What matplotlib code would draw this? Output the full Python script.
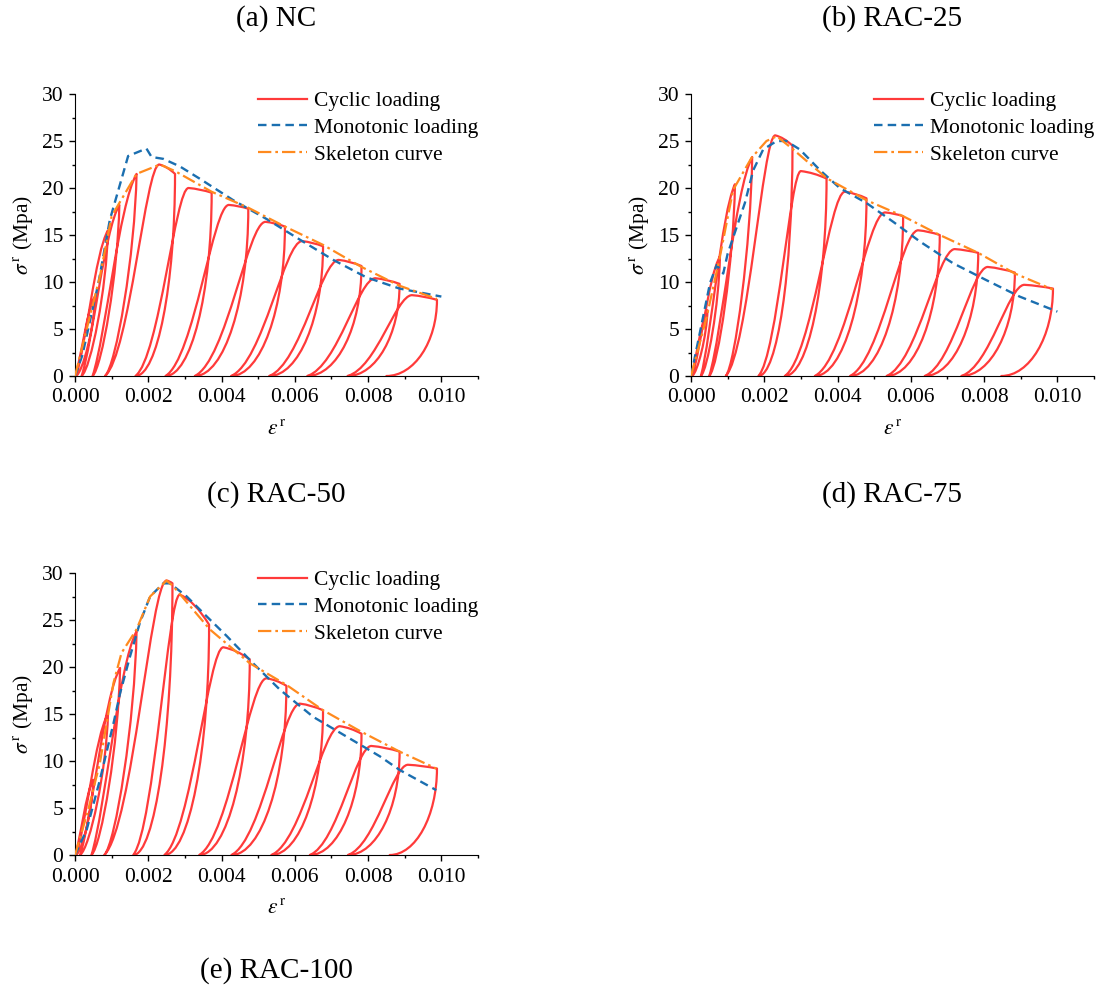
import matplotlib
matplotlib.use("Agg")
import matplotlib.pyplot as plt
from matplotlib.path import Path
from matplotlib.patches import PathPatch
from matplotlib.lines import Line2D
from matplotlib.ticker import MultipleLocator, FormatStrFormatter

plt.rcParams['font.family'] = ['Liberation Serif', 'DejaVu Serif']
plt.rcParams['mathtext.fontset'] = 'stix'

# ---------------- data ----------------
# Cyclic loading: per cycle -> reload top (et, st), unloading point (eu, su), residual strain ep
# (cycle i reloads from ep[i-1], or from 0 for the first cycle)
nc_top_eps = [0.00055, 0.0009, 0.00121, 0.00168, 0.0023, 0.0031, 0.0042, 0.0052, 0.0062, 0.0072, 0.0082, 0.0092]
nc_top_sig = [8.5, 15.5, 18.2, 21.5, 22.5, 20.0, 18.2, 16.4, 14.35, 12.35, 10.4, 8.6]
nc_unl_eps = [0.00055, 0.0009, 0.00121, 0.00168, 0.00273, 0.00373, 0.00473, 0.00573, 0.00677, 0.00782, 0.00886, 0.00988]
nc_unl_sig = [8.5, 15.5, 18.2, 21.5, 21.5, 19.5, 17.8, 15.9, 13.8, 11.7, 9.8, 8.1]
nc_res_eps = [0.00003, 0.00018, 0.00048, 0.00082, 0.00165, 0.00247, 0.00327, 0.00426, 0.0053, 0.00634, 0.00744, 0.0085]

r25_top_eps = [0.00045, 0.00079, 0.0012, 0.00167, 0.0023, 0.0030, 0.0042, 0.0053, 0.0062, 0.0072, 0.0081, 0.0091]
r25_top_sig = [7.0, 12.7, 20.4, 23.3, 25.6, 21.8, 19.6, 17.4, 15.5, 13.5, 11.6, 9.7]
r25_unl_eps = [0.00045, 0.00079, 0.0012, 0.00167, 0.00277, 0.0037, 0.00479, 0.00579, 0.00679, 0.00784, 0.00884, 0.00988]
r25_unl_sig = [7.0, 12.7, 20.4, 23.3, 24.5, 21.0, 18.9, 17.0, 15.0, 13.1, 11.0, 9.3]
r25_res_eps = [0.00003, 0.00027, 0.0005, 0.00095, 0.00184, 0.00256, 0.00338, 0.00434, 0.00534, 0.00638, 0.00738, 0.00847]

r100_top_eps = [0.0005, 0.0009, 0.00123, 0.00168, 0.0025, 0.00286, 0.00405, 0.00523, 0.00614, 0.00723, 0.00809, 0.00909]
r100_top_sig = [8.0, 15.0, 19.9, 23.8, 29.2, 27.7, 22.1, 18.8, 16.1, 13.7, 11.6, 9.6]
r100_unl_eps = [0.0005, 0.0009, 0.00123, 0.00168, 0.00266, 0.00366, 0.00477, 0.00577, 0.00677, 0.00782, 0.00886, 0.00988]
r100_unl_sig = [8.0, 15.0, 19.9, 23.8, 28.9, 24.5, 20.8, 18.0, 15.4, 12.9, 11.0, 9.2]
r100_res_eps = [0.00003, 0.00014, 0.00045, 0.0008, 0.00159, 0.00244, 0.00339, 0.00427, 0.00536, 0.00641, 0.00745, 0.00859]

# Monotonic loading curves
nc_mono_eps = [0.0, 0.0002, 0.00064, 0.00095, 0.00145, 0.00195, 0.00209, 0.00241, 0.00286, 0.0034, 0.00432, 0.00523, 0.00614, 0.00705, 0.00795, 0.00886, 0.0100]
nc_mono_sig = [0.0, 2.2, 9.9, 16.6, 23.4, 24.2, 23.3, 23.1, 22.3, 21.0, 18.7, 16.7, 14.5, 12.35, 10.5, 9.3, 8.45]
r25_mono_eps = [0.0, 0.00011, 0.00052, 0.0007, 0.00088, 0.0010, 0.00147, 0.0017, 0.00197, 0.00234, 0.0026, 0.00297, 0.00352, 0.00406, 0.00479, 0.00552, 0.00625, 0.00715, 0.00806, 0.00897, 0.0100]
r25_mono_sig = [0.0, 2.1, 9.9, 11.8, 10.9, 13.0, 18.4, 21.9, 24.1, 25.0, 25.0, 24.1, 21.9, 20.0, 18.4, 16.4, 14.3, 12.0, 10.2, 8.45, 6.85]
r100_mono_eps = [0.0, 0.00032, 0.00068, 0.00105, 0.00123, 0.0015, 0.00177, 0.00205, 0.00241, 0.00259, 0.00305, 0.00359, 0.00414, 0.00486, 0.00559, 0.0065, 0.00741, 0.00832, 0.00886, 0.00986]
r100_mono_sig = [0.0, 2.7, 8.0, 14.0, 17.2, 21.1, 24.7, 27.5, 28.9, 28.9, 27.5, 25.4, 23.3, 20.4, 17.6, 14.7, 12.6, 10.5, 9.05, 6.9]

# Skeleton curves
nc_skel_eps = [0.0, 0.00068, 0.0010, 0.00121, 0.00168, 0.00232, 0.00273, 0.00373, 0.00473, 0.00573, 0.00677, 0.00782, 0.00886, 0.00988]
nc_skel_sig = [0.0, 10.6, 17.0, 18.4, 21.5, 22.5, 21.8, 19.6, 17.9, 15.9, 13.95, 11.6, 9.6, 8.2]
r25_skel_eps = [0.0, 0.00043, 0.00079, 0.00115, 0.00165, 0.00206, 0.00234, 0.00279, 0.0037, 0.00479, 0.00579, 0.00679, 0.00784, 0.00884, 0.00988]
r25_skel_sig = [0.0, 6.3, 12.7, 19.8, 23.2, 25.0, 25.5, 24.1, 21.05, 18.7, 17.0, 15.0, 13.1, 10.9, 9.2]
r100_skel_eps = [0.0, 0.00036, 0.00068, 0.00105, 0.00127, 0.00168, 0.00205, 0.0025, 0.00268, 0.00368, 0.00477, 0.00577, 0.00677, 0.00782, 0.00886, 0.00986]
r100_skel_sig = [0.0, 4.8, 9.8, 18.3, 21.5, 24.0, 27.5, 29.2, 28.6, 24.0, 20.4, 18.1, 15.4, 13.1, 11.0, 9.2]

panel_titles = ["(a) NC", "(b) RAC-25", "(c) RAC-50", "(d) RAC-75", "(e) RAC-100"]
legend_labels = ["Cyclic loading", "Monotonic loading", "Skeleton curve"]

RED = '#FF3A3A'
BLUE = '#1B6FB0'
ORANGE = '#FF8A1E'
FS = 15.5
DASH = (0, (3.6, 2.2))
DASHDOT = (0, (6.0, 1.8, 1.2, 1.8))


def cyclic_path(top_e, top_s, unl_e, unl_s, res_e):
    verts = [(0.0, 0.0)]
    codes = [Path.MOVETO]
    prev = 0.0
    for et, st, eu, su, ep in zip(top_e, top_s, unl_e, unl_s, res_e):
        dx = et - prev
        early = (et == eu and st == su)
        if early:
            c1 = (prev + 0.3 * dx, 0.2 * st)
            c2 = (prev + 0.6 * dx, 0.85 * st)
        else:
            c1 = (prev + 0.45 * dx, 0.1 * st)
            c2 = (prev + 0.75 * dx, st)
        verts += [c1, c2, (et, st)]
        codes += [Path.CURVE4] * 3
        if not early:
            ctrl = (0.5 * (et + eu), st - 0.2 * (st - su))
            verts += [ctrl, (eu, su)]
            codes += [Path.CURVE3] * 2
        du = eu - ep
        if early:
            c1 = (eu - 0.05 * du, 0.6 * su)
            c2 = (ep + 0.35 * du, 0.05 * su)
        else:
            c1 = (eu, 0.45 * su)
            c2 = (ep + 0.55 * du, 0.0)
        verts += [c1, c2, (ep, 0.0)]
        codes += [Path.CURVE4] * 3
        prev = ep
    return Path(verts, codes)


fig = plt.figure(figsize=(10.96, 9.92), dpi=100)
W, H = 1096.0, 992.0


def make_axes(left_px, top_px):
    return fig.add_axes([left_px / W, 1 - (top_px + 282) / H, 403 / W, 282 / H])


panels = [
    (make_axes(75, 94), (nc_top_eps, nc_top_sig, nc_unl_eps, nc_unl_sig, nc_res_eps),
     (nc_mono_eps, nc_mono_sig), (nc_skel_eps, nc_skel_sig)),
    (make_axes(691, 94), (r25_top_eps, r25_top_sig, r25_unl_eps, r25_unl_sig, r25_res_eps),
     (r25_mono_eps, r25_mono_sig), (r25_skel_eps, r25_skel_sig)),
    (make_axes(75, 573), (r100_top_eps, r100_top_sig, r100_unl_eps, r100_unl_sig, r100_res_eps),
     (r100_mono_eps, r100_mono_sig), (r100_skel_eps, r100_skel_sig)),
]

for ax, cyc, mono, skel in panels:
    patch = PathPatch(cyclic_path(*cyc), facecolor='none', edgecolor=RED, lw=1.6,
                      joinstyle='round', capstyle='round', zorder=2)
    ax.add_patch(patch)
    ax.plot(mono[0], mono[1], color=BLUE, lw=1.7, ls=DASH, zorder=3)
    ax.plot(skel[0], skel[1], color=ORANGE, lw=1.6, ls=DASHDOT, zorder=4)

    ax.set_xlim(0, 0.011)
    ax.set_ylim(0, 30)
    ax.spines['top'].set_visible(False)
    ax.spines['right'].set_visible(False)
    ax.xaxis.set_major_locator(MultipleLocator(0.002))
    ax.xaxis.set_minor_locator(MultipleLocator(0.001))
    ax.yaxis.set_major_locator(MultipleLocator(5))
    ax.yaxis.set_minor_locator(MultipleLocator(2.5))
    ax.xaxis.set_major_formatter(FormatStrFormatter('%.3f'))
    ax.tick_params(which='major', direction='out', length=4, width=1, labelsize=FS)
    ax.tick_params(which='minor', direction='out', length=2.5, width=1)
    ax.tick_params(axis='x', which='major', pad=5)
    ax.tick_params(axis='y', which='major', pad=4.5)
    ax.set_xlabel(r'$\varepsilon^{\,\mathrm{r}}$', fontsize=FS, labelpad=9)
    ax.set_ylabel(r'$\sigma^{\,\mathrm{r}}$ (Mpa)', fontsize=FS, labelpad=5)

    handles = [Line2D([], [], color=RED, lw=1.6),
               Line2D([], [], color=BLUE, lw=1.7, ls=DASH),
               Line2D([], [], color=ORANGE, lw=1.6, ls=DASHDOT)]
    ax.legend(handles, legend_labels, loc='upper right', bbox_to_anchor=(1.0, 1.01),
              frameon=False, fontsize=FS, borderaxespad=0, borderpad=0,
              handlelength=2.25, handletextpad=0.33, labelspacing=0.31)

title_pos = [(276, 19), (892, 19), (276, 495), (892, 495), (276, 971)]
for t, (x, y) in zip(panel_titles, title_pos):
    fig.text(x / W, 1 - y / H, t, ha='center', va='center', fontsize=21)

fig.savefig('out.png', dpi=100)
